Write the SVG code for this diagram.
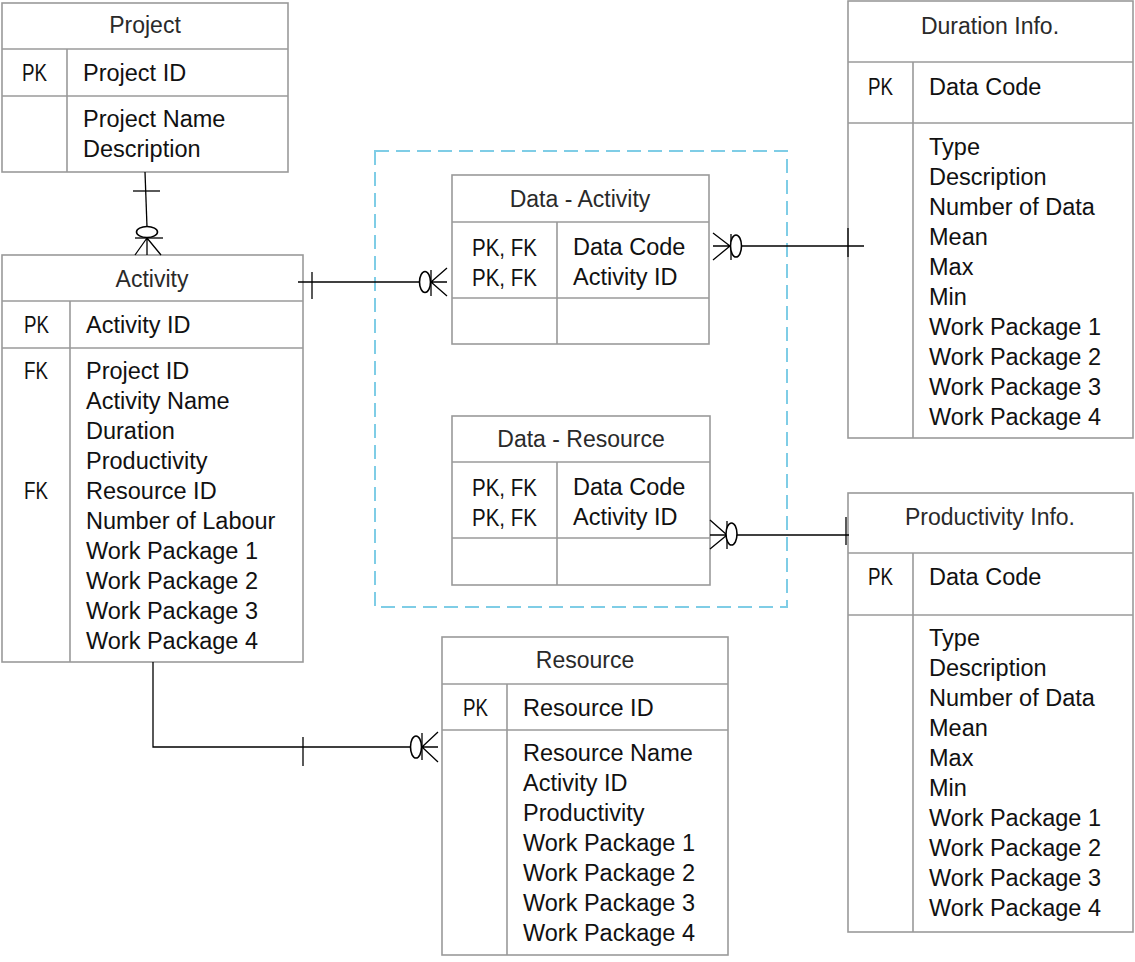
<svg xmlns="http://www.w3.org/2000/svg" width="1135" height="962" viewBox="0 0 1135 962">
<style>
.box{fill:#fff;stroke:#9a9a9a;stroke-width:1.6}
.ln{stroke:#9a9a9a;stroke-width:1.6;fill:none}
.t{font-family:"Liberation Sans",Arial,sans-serif;font-size:23.5px;fill:#111}
.h{font-family:"Liberation Sans",Arial,sans-serif;font-size:23px;fill:#2a2a2a;text-anchor:middle}
.k{font-family:"Liberation Sans",Arial,sans-serif;font-size:24px;fill:#111}
.c{stroke:#000;stroke-width:1.3;fill:none}
.e{stroke:#000;stroke-width:1.6;fill:#fff}
</style>
<rect width="1135" height="962" fill="#fff"/>
<rect id="group-boundary" x="375" y="151" width="412" height="456" fill="none" stroke="#7fcde6" stroke-width="2" stroke-dasharray="14 7"/>

<g id="project">
  <rect class="box" x="2" y="3" width="286" height="169"/>
  <path class="ln" d="M2,49 H288 M2,96 H288 M67,49 V172"/>
  <text class="h" x="145" y="33">Project</text>
  <text class="k" x="22" y="81" textLength="25" lengthAdjust="spacingAndGlyphs">PK</text>
  <text class="t" x="83" y="81">Project ID</text>
  <text class="t" x="83" y="127">Project Name</text>
  <text class="t" x="83" y="157">Description</text>
</g>

<g id="activity">
  <rect class="box" x="2" y="255" width="301" height="407"/>
  <path class="ln" d="M2,301 H303 M2,348 H303 M70,301 V662"/>
  <text class="h" x="152" y="287">Activity</text>
  <text class="k" x="24" y="333" textLength="25" lengthAdjust="spacingAndGlyphs">PK</text>
  <text class="t" x="86" y="333">Activity ID</text>
  <text class="k" x="24" y="379" textLength="24" lengthAdjust="spacingAndGlyphs">FK</text>
  <text class="k" x="24" y="499" textLength="24" lengthAdjust="spacingAndGlyphs">FK</text>
  <text class="t" x="86" y="379">Project ID</text>
  <text class="t" x="86" y="409">Activity Name</text>
  <text class="t" x="86" y="439">Duration</text>
  <text class="t" x="86" y="469">Productivity</text>
  <text class="t" x="86" y="499">Resource ID</text>
  <text class="t" x="86" y="529">Number of Labour</text>
  <text class="t" x="86" y="559">Work Package 1</text>
  <text class="t" x="86" y="589">Work Package 2</text>
  <text class="t" x="86" y="619">Work Package 3</text>
  <text class="t" x="86" y="649">Work Package 4</text>
</g>

<g id="data-activity">
  <rect class="box" x="452" y="175" width="257" height="169"/>
  <path class="ln" d="M452,222 H709 M452,298 H709 M557,222 V344"/>
  <text class="h" x="580" y="207">Data - Activity</text>
  <text class="k" x="472" y="256" textLength="65" lengthAdjust="spacingAndGlyphs">PK, FK</text>
  <text class="k" x="472" y="286" textLength="65" lengthAdjust="spacingAndGlyphs">PK, FK</text>
  <text class="t" x="573" y="255">Data Code</text>
  <text class="t" x="573" y="285">Activity ID</text>
</g>

<g id="data-resource">
  <rect class="box" x="452" y="416" width="258" height="169"/>
  <path class="ln" d="M452,462 H710 M452,538 H710 M557,462 V585"/>
  <text class="h" x="581" y="447">Data - Resource</text>
  <text class="k" x="472" y="496" textLength="65" lengthAdjust="spacingAndGlyphs">PK, FK</text>
  <text class="k" x="472" y="526" textLength="65" lengthAdjust="spacingAndGlyphs">PK, FK</text>
  <text class="t" x="573" y="495">Data Code</text>
  <text class="t" x="573" y="525">Activity ID</text>
</g>

<g id="duration-info">
  <rect class="box" x="848" y="1" width="285" height="437"/>
  <path class="ln" d="M848,62 H1133 M848,123 H1133 M913,62 V438"/>
  <text class="h" x="990" y="34">Duration Info.</text>
  <text class="k" x="868" y="95" textLength="25" lengthAdjust="spacingAndGlyphs">PK</text>
  <text class="t" x="929" y="95">Data Code</text>
  <text class="t" x="929" y="155">Type</text>
  <text class="t" x="929" y="185">Description</text>
  <text class="t" x="929" y="215">Number of Data</text>
  <text class="t" x="929" y="245">Mean</text>
  <text class="t" x="929" y="275">Max</text>
  <text class="t" x="929" y="305">Min</text>
  <text class="t" x="929" y="335">Work Package 1</text>
  <text class="t" x="929" y="365">Work Package 2</text>
  <text class="t" x="929" y="395">Work Package 3</text>
  <text class="t" x="929" y="425">Work Package 4</text>
</g>

<g id="productivity-info">
  <rect class="box" x="848" y="493" width="285" height="439"/>
  <path class="ln" d="M848,553 H1133 M848,615 H1133 M913,553 V932"/>
  <text class="h" x="990" y="525">Productivity Info.</text>
  <text class="k" x="868" y="585" textLength="25" lengthAdjust="spacingAndGlyphs">PK</text>
  <text class="t" x="929" y="585">Data Code</text>
  <text class="t" x="929" y="646">Type</text>
  <text class="t" x="929" y="676">Description</text>
  <text class="t" x="929" y="706">Number of Data</text>
  <text class="t" x="929" y="736">Mean</text>
  <text class="t" x="929" y="766">Max</text>
  <text class="t" x="929" y="796">Min</text>
  <text class="t" x="929" y="826">Work Package 1</text>
  <text class="t" x="929" y="856">Work Package 2</text>
  <text class="t" x="929" y="886">Work Package 3</text>
  <text class="t" x="929" y="916">Work Package 4</text>
</g>

<g id="resource">
  <rect class="box" x="442" y="637" width="286" height="318"/>
  <path class="ln" d="M442,684 H728 M442,730 H728 M507,684 V955"/>
  <text class="h" x="585" y="668">Resource</text>
  <text class="k" x="463" y="716" textLength="25" lengthAdjust="spacingAndGlyphs">PK</text>
  <text class="t" x="523" y="716">Resource ID</text>
  <text class="t" x="523" y="761">Resource Name</text>
  <text class="t" x="523" y="791">Activity ID</text>
  <text class="t" x="523" y="821">Productivity</text>
  <text class="t" x="523" y="851">Work Package 1</text>
  <text class="t" x="523" y="881">Work Package 2</text>
  <text class="t" x="523" y="911">Work Package 3</text>
  <text class="t" x="523" y="941">Work Package 4</text>
</g>

<g id="connectors">
  <!-- Project - Activity -->
  <line class="c" x1="145" y1="172" x2="147" y2="227"/>
  <line class="c" x1="133" y1="191" x2="160" y2="191"/>
  <ellipse class="e" cx="147" cy="232" rx="10.5" ry="5.5"/>
  <line class="c" x1="135" y1="238" x2="163" y2="238"/>
  <path class="c" d="M147,238 L135,255 M147,238 L147,255 M147,238 L161,255"/>
  <!-- Activity - Data-Activity -->
  <line class="c" x1="298" y1="282" x2="420" y2="282"/>
  <line class="c" x1="312" y1="272" x2="312" y2="299"/>
  <ellipse class="e" cx="425" cy="282" rx="5.5" ry="10.5"/>
  <line class="c" x1="431" y1="270" x2="431" y2="296"/>
  <path class="c" d="M431,282 L447,268 M431,282 L447,282 M431,282 L447,296"/>
  <!-- Data-Activity - Duration Info -->
  <path class="c" d="M713,233 L730,246 M713,260 L730,246 M713,246 L730,246"/>
  <line class="c" x1="731" y1="234" x2="731" y2="260"/>
  <ellipse class="e" cx="736" cy="246" rx="5.5" ry="11"/>
  <line class="c" x1="742" y1="246" x2="864" y2="246"/>
  <line class="c" x1="848" y1="228" x2="848" y2="257"/>
  <!-- Data-Resource - Productivity Info -->
  <path class="c" d="M710,520 L727,535 M710,549 L727,535 M710,535 L727,535"/>
  <line class="c" x1="727" y1="521" x2="727" y2="549"/>
  <ellipse class="e" cx="731.5" cy="534" rx="5.5" ry="11"/>
  <line class="c" x1="737" y1="535" x2="849" y2="535"/>
  <line class="c" x1="846" y1="517" x2="846" y2="545"/>
  <!-- Activity - Resource -->
  <polyline class="c" points="153,662 153,747 410,747"/>
  <line class="c" x1="303" y1="737" x2="303" y2="766"/>
  <ellipse class="e" cx="416" cy="747" rx="5.5" ry="11"/>
  <line class="c" x1="422" y1="733" x2="422" y2="760"/>
  <path class="c" d="M422,747 L438,732 M422,747 L438,747 M422,747 L438,762"/>
</g>
</svg>
